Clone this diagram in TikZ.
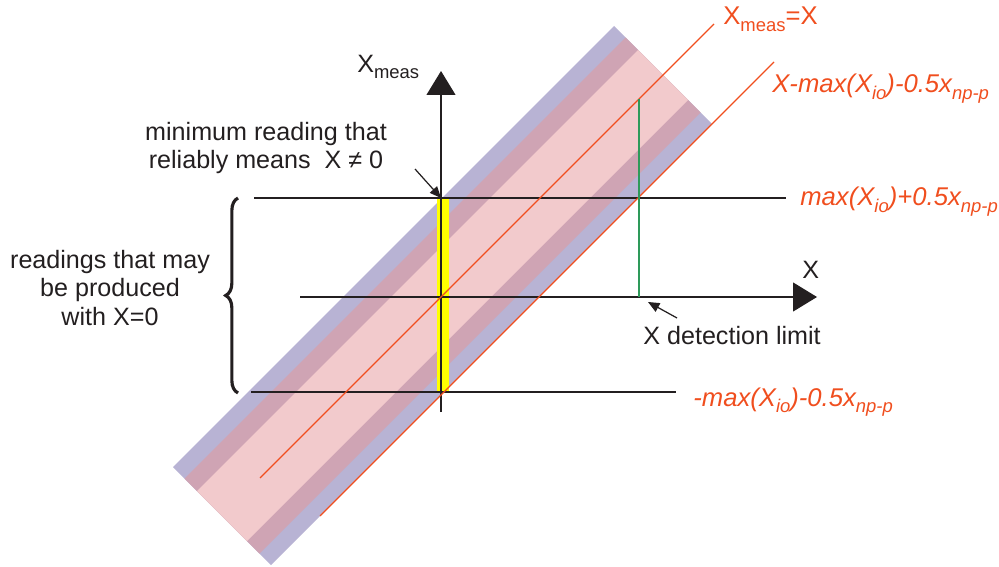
\documentclass[tikz,border=0pt]{standalone}
\usepackage{fontspec}
\setmainfont{Liberation Sans}
\usetikzlibrary{arrows.meta,decorations.pathreplacing}
\definecolor{LDBlue}{HTML}{B8B3D4}
\definecolor{LDMauve}{HTML}{CFA4B4}
\definecolor{LDPink}{HTML}{F2CACC}
\definecolor{LDRed}{HTML}{F04E1E}
\definecolor{LDGreen}{HTML}{2E9A5A}
\definecolor{LDInk}{HTML}{231F20}
\definecolor{LDYellow}{HTML}{FFFF00}
\newcommand{\lowsub}[1]{\raisebox{-0.45ex}{\fontsize{10.5}{10.5}\selectfont #1}}
\tikzset{
  axis/.style={-{Triangle[length=13.6pt,width=16.4pt]},LDInk,line width=0.8pt},
  level/.style={LDInk,line width=0.8pt},
  ideal/.style={LDRed,line width=0.7pt},
  limitline/.style={LDGreen,line width=0.6pt},
  pointer/.style={-{Triangle[length=6.5pt,width=5.5pt]},LDInk,line width=0.7pt},
  curly/.style={decorate,decoration={brace,amplitude=7pt},LDInk,line width=1.8pt},
  note/.style={text=LDInk,font=\fontsize{14.3}{16.4}\selectfont,align=center,inner sep=0pt},
  redlabel/.style={text=LDRed,font=\fontsize{14.6}{16}\selectfont\itshape,inner sep=0pt},
}
\begin{document}
\begin{tikzpicture}[x=0.02cm,y=-0.02cm]
  \useasboundingbox (0,0) rectangle (999,567);
  % --- uncertainty band round X_meas = X ---
  \foreach \w/\c in {98/LDBlue,75/LDMauve,50/LDPink}{
    \fill[\c] ({(738-\w-294)/2},{(738-\w+294)/2}) -- ({(738-\w+588)/2},{(738-\w-588)/2})
      -- ({(738+\w+588)/2},{(738+\w-588)/2}) -- ({(738+\w-294)/2},{(738+\w+294)/2}) -- cycle;
  }
  \fill[LDYellow] (437,198) rectangle (449,392);

  % --- axes and levels ---
  \coordinate (O) at (441,297);
  \coordinate (ybot) at (441,412);
  \coordinate (ytop) at (441,71);
  \coordinate (xleft) at (300,297);
  \coordinate (xright) at (817,297);
  \draw[level] (254,198) coordinate (hiL) -- (786,198) coordinate (hiR);
  \draw[level] (251,392) coordinate (loL) -- (676,392) coordinate (loR);
  \draw[axis] (xleft) -- (xright);
  \draw[axis] (ybot) -- (ytop);

  % --- ideal line and shifted line ---
  \draw[ideal] (260,478) coordinate (idA) -- (714,24) coordinate (idB);
  \draw[ideal] (320,516) coordinate (shA) -- (774,62) coordinate (shB);
  \draw[limitline] (639,99) coordinate (glTop) -- (639,297) coordinate (glBot);

  % --- labels ---
  \node[note,anchor=base west] (xmeas) at (357,73) {X\lowsub{meas}};
  \node[note,anchor=base west] (xlab) at (802,278) {X};
  \node[note,anchor=base] (minlabel) at (266,169) {minimum reading that\\reliably means \ X ≠ 0};
  \node[note] (readlabel) at (110,288) {readings that may\\be produced\\with X=0};
  \node[note,anchor=base west] (detlabel) at (643,344) {X detection limit};
  \node[redlabel,anchor=base west] (idlabel) at (723,25) {\upshape X\lowsub{meas}=X};
  \node[redlabel,anchor=base west] (shlabel) at (772,93) {X-max(X\lowsub{io})-0.5x\lowsub{np-p}};
  \node[redlabel,anchor=base west] (hilabel) at (800,206) {max(X\lowsub{io})+0.5x\lowsub{np-p}};
  \node[redlabel,anchor=base west] (lolabel) at (693,406) {-max(X\lowsub{io})-0.5x\lowsub{np-p}};

  % --- pointers and brace ---
  \coordinate (minfoot) at (415,169);
  \coordinate (minhit) at (441,198);
  \draw[pointer] (minfoot) -- (minhit);
  \coordinate (detfoot) at (677,318);
  \coordinate (dethit) at (648,302);
  \draw[pointer] (detfoot) -- (dethit);
  \draw[curly] (238,393) coordinate (brB) -- (238,198) coordinate (brT);
\end{tikzpicture}
\end{document}
